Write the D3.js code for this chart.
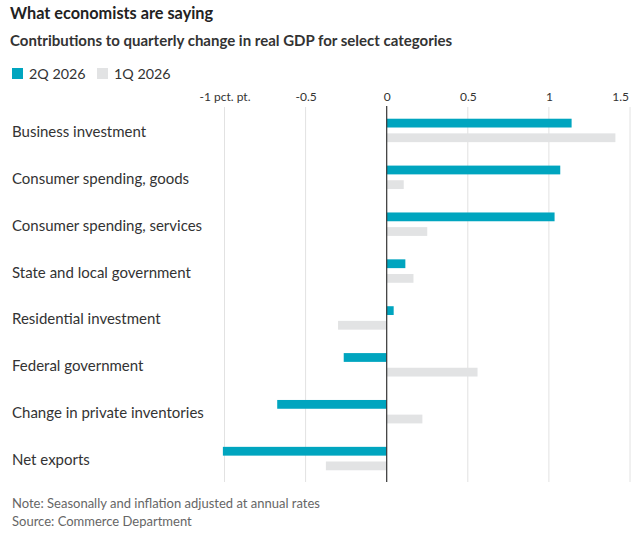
<!DOCTYPE html>
<html>
<head>
<meta charset="utf-8">
<script src="https://cdn.jsdelivr.net/npm/d3@7"></script>
<style>
  html, body { margin: 0; padding: 0; background: #fff; }
  svg { display: block; }
  text { font-family: Lato, "Noto Sans", sans-serif; }
</style>
</head>
<body>
<svg id="chart" width="641" height="539"></svg>
<script>
const categories = [
  "Business investment",
  "Consumer spending, goods",
  "Consumer spending, services",
  "State and local government",
  "Residential investment",
  "Federal government",
  "Change in private inventories",
  "Net exports"
];
const series = ["2Q 2026", "1Q 2026"];
const values2Q = [1.14, 1.07, 1.035, 0.115, 0.043, -0.265, -0.675, -1.01];
const values1Q = [1.41, 0.105, 0.25, 0.165, -0.30, 0.56, 0.22, -0.375];
const tickValues = [-1, -0.5, 0, 0.5, 1, 1.5];
const tickLabels = ["-1 pct. pt.", "-0.5", "0", "0.5", "1", "1.5"];
const colors = ["#00a5bf", "#e2e3e4"];

const data = categories.map((c, i) => ({ cat: c, vals: [values2Q[i], values1Q[i]] }));

const svg = d3.select("#chart");
const x = d3.scaleLinear().domain([-1, 1.5]).range([224.5, 630]);
const y = d3.scaleBand().domain(categories).range([107, 482]).paddingInner(0.5).paddingOuter(0.25);
const ySub = d3.scaleBand().domain(series).range([0, y.bandwidth()]).paddingInner(0.4);

// Title
svg.append("text").attr("x", 10).attr("y", 19).attr("font-size", 16.3).attr("font-weight", 700)
  .attr("fill", "#222").text("What economists are saying");
svg.append("text").attr("x", 10).attr("y", 46).attr("font-size", 15).attr("font-weight", 700)
  .attr("fill", "#333").text("Contributions to quarterly change in real GDP for select categories");

// Legend
const leg = svg.append("g");
const legX = [12, 97];
series.forEach((s, i) => {
  leg.append("rect").attr("x", legX[i]).attr("y", 68).attr("width", 11).attr("height", 11).attr("fill", colors[i]);
  leg.append("text").attr("x", legX[i] + 17).attr("y", 79).attr("font-size", 14.3).attr("fill", "#333").text(s);
});

// Gridlines
svg.append("g").selectAll("line").data(tickValues.filter(d => d !== 0)).join("line")
  .attr("x1", d => x(d)).attr("x2", d => x(d)).attr("y1", 107).attr("y2", 482)
  .attr("stroke", "#e2e2e2").attr("stroke-width", 1);

// Tick labels via axis
const axis = d3.axisTop(x).tickValues(tickValues).tickFormat((d, i) => tickLabels[i]).tickSize(0).tickPadding(0);
const ax = svg.append("g").attr("transform", "translate(0,101)").call(axis);
ax.select(".domain").remove();
ax.selectAll("text").attr("font-size", 12).attr("fill", "#333").attr("font-family", "Lato, sans-serif")
  .attr("dy", 0)
  .attr("text-anchor", (d) => d === 1.5 ? "end" : "middle")
  .attr("dx", (d) => d === 1.5 ? -1.5 : 0);

// Bars
const groups = svg.append("g").selectAll("g").data(data).join("g")
  .attr("transform", d => `translate(0,${y(d.cat)})`);
groups.selectAll("rect").data(d => d.vals.map((v, i) => ({ v, s: series[i], i }))).join("rect")
  .attr("x", d => x(Math.min(0, d.v)))
  .attr("width", d => Math.abs(x(d.v) - x(0)))
  .attr("y", d => ySub(d.s))
  .attr("height", ySub.bandwidth())
  .attr("fill", d => colors[d.i]);

// Category labels
svg.append("g").selectAll("text").data(categories).join("text")
  .attr("x", 12).attr("y", d => y(d) + y.bandwidth() / 2 + 6.5)
  .attr("font-size", 15).attr("fill", "#333").text(d => d);

// Zero line
svg.append("line").attr("x1", x(0)).attr("x2", x(0)).attr("y1", 106).attr("y2", 482)
  .attr("stroke", "#333").attr("stroke-width", 1.2);

// Footer
svg.append("text").attr("x", 12).attr("y", 508).attr("font-size", 13).attr("fill", "#666")
  .text("Note: Seasonally and inflation adjusted at annual rates");
svg.append("text").attr("x", 12).attr("y", 526).attr("font-size", 13).attr("fill", "#666")
  .text("Source: Commerce Department");
</script>
</body>
</html>
